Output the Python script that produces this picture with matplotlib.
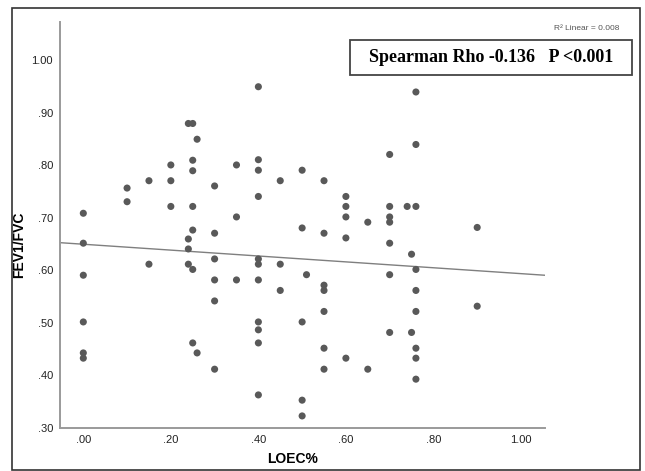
import numpy as np
import matplotlib
matplotlib.use("Agg")
import matplotlib.pyplot as plt
from matplotlib.patches import Rectangle

# ---- data ----
loec = [0.00, 0.00, 0.00, 0.00, 0.00, 0.00,
        0.10, 0.10,
        0.15, 0.15,
        0.20, 0.20, 0.20,
        0.24, 0.25, 0.26, 0.25, 0.25, 0.25, 0.25, 0.24, 0.24, 0.24, 0.25, 0.25, 0.26,
        0.30, 0.30, 0.30, 0.30, 0.30, 0.30,
        0.35, 0.35, 0.35,
        0.40, 0.40, 0.40, 0.40, 0.40, 0.40, 0.40, 0.40, 0.40, 0.40, 0.40,
        0.45, 0.45, 0.45,
        0.50, 0.50, 0.51, 0.50, 0.50, 0.50,
        0.55, 0.55, 0.55, 0.55, 0.55, 0.55, 0.55,
        0.60, 0.60, 0.60, 0.60, 0.60,
        0.65, 0.65,
        0.70, 0.70, 0.70, 0.70, 0.70, 0.70, 0.70,
        0.74, 0.75, 0.75,
        0.76, 0.76, 0.76, 0.76, 0.76, 0.76, 0.76, 0.76, 0.76,
        0.90, 0.90]
fev = [0.709, 0.652, 0.591, 0.502, 0.443, 0.433,
       0.757, 0.731,
       0.771, 0.612,
       0.801, 0.771, 0.722,
       0.880, 0.880, 0.850, 0.810, 0.790, 0.722, 0.677, 0.660, 0.641, 0.612, 0.602, 0.462, 0.443,
       0.761, 0.671, 0.622, 0.582, 0.542, 0.412,
       0.801, 0.702, 0.582,
       0.950, 0.811, 0.791, 0.741, 0.622, 0.612, 0.582, 0.502, 0.487, 0.462, 0.363,
       0.771, 0.612, 0.562,
       0.791, 0.681, 0.592, 0.502, 0.353, 0.323,
       0.771, 0.671, 0.572, 0.562, 0.522, 0.452, 0.412,
       0.741, 0.722, 0.702, 0.662, 0.433,
       0.692, 0.412,
       0.821, 0.722, 0.702, 0.692, 0.652, 0.592, 0.482,
       0.722, 0.631, 0.482,
       0.940, 0.840, 0.722, 0.602, 0.562, 0.522, 0.452, 0.433, 0.393,
       0.682, 0.532]

fit_intercept = 0.650
fit_slope = -0.056

x_ticks = [0.0, 0.2, 0.4, 0.6, 0.8, 1.0]
x_labels = ['.00', '.20', '.40', '.60', '.80', '1.00']
y_ticks = [0.3, 0.4, 0.5, 0.6, 0.7, 0.8, 0.9, 1.0]
y_labels = ['.30', '.40', '.50', '.60', '.70', '.80', '.90', '1.00']

plt.rcParams['font.family'] = ['Liberation Sans', 'DejaVu Sans']

fig = plt.figure(figsize=(6.45, 4.71), dpi=100)
ax = fig.add_axes([0.093, 0.0913, 0.752, 0.862])

xlim = (-0.0533, 1.055)
ax.set_xlim(xlim)
ax.set_ylim(0.30, 1.0733)

# fit line across the whole x range
xs = np.array(xlim)
ax.plot(xs, fit_intercept + fit_slope * xs, color='#7f7f7f', lw=1.0, zorder=2)

ax.scatter(loec, fev, s=26, color='#595959', edgecolors='none', zorder=3)

ax.set_xticks(x_ticks)
ax.set_xticklabels(x_labels)
ax.set_yticks(y_ticks)
ax.set_yticklabels(y_labels)
ax.tick_params(length=0, labelsize=8, colors='#222222', pad=5)

for s in ['top', 'right']:
    ax.spines[s].set_visible(False)
for s in ['left', 'bottom']:
    ax.spines[s].set_color('#9a9a9a')
    ax.spines[s].set_linewidth(1.4)

ax.set_xlabel('LOEC%', fontsize=10, fontweight='bold', va='center')
ax.xaxis.set_label_coords(0.48, -0.076)
ax.set_ylabel('FEV1/FVC', fontsize=10, fontweight='bold', va='center')
ax.yaxis.set_label_coords(-0.085, 0.45)

# annotations outside/over the plot
fig.text(619 / 645, 1 - 29 / 471, 'R\u00b2 Linear = 0.008', fontsize=6,
         color='#555555', ha='right', va='center')
fig.patches.append(Rectangle((350 / 645, 1 - 75 / 471), 282 / 645, 35 / 471,
                             transform=fig.transFigure, fill=True, facecolor='white',
                             edgecolor='#444444', lw=1.3, zorder=5))
fig.text(491 / 645, 1 - 58 / 471, 'Spearman Rho -0.136   P <0.001',
         family='Liberation Serif', fontweight='bold', fontsize=13,
         ha='center', va='center', zorder=6)

# outer frame
fig.patches.append(Rectangle((12 / 645, 1 / 471), 628 / 645, 462 / 471,
                             transform=fig.transFigure, fill=False,
                             edgecolor='#333333', lw=1.2))

fig.savefig('out.png', dpi=100)
